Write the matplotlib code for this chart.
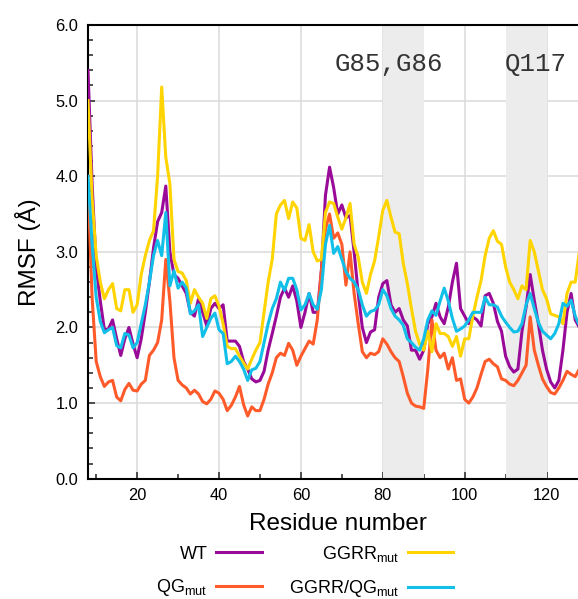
import numpy as np
import matplotlib
matplotlib.use("Agg")
from matplotlib import pyplot as plt
from matplotlib.ticker import MultipleLocator, FormatStrFormatter

# residue numbers 8..128
residues = np.arange(8, 129)

wt = [5.4, 3.9, 2.8, 2.35, 1.97, 1.98, 2.1, 1.85, 1.63, 1.85,
	2.0, 1.78, 1.6, 1.85, 2.2, 2.6, 3.05, 3.4, 3.52, 3.87,
	3.0, 2.7, 2.65, 2.55, 2.45, 2.2, 2.15, 2.38, 2.2, 2.02,
	2.25, 2.32, 2.25, 2.3, 1.82, 1.82, 1.82, 1.75, 1.55, 1.45,
	1.32, 1.28, 1.3, 1.42, 1.7, 1.92, 2.15, 2.4, 2.52, 2.4,
	2.55, 2.35, 2.0, 2.2, 2.45, 2.2, 2.2, 2.75, 3.75, 4.12,
	3.85, 3.5, 3.62, 3.45, 3.48, 3.0, 2.45, 2.0, 1.8, 1.94,
	1.97, 2.4, 2.58, 2.62, 2.3, 2.2, 2.25, 2.1, 2.02, 1.7,
	1.7, 1.58, 1.7, 2.05, 2.14, 2.32, 2.14, 2.05, 2.27, 2.6,
	2.85, 2.25, 2.15, 2.05, 2.14, 2.1, 2.02, 2.42, 2.45, 2.32,
	2.08, 1.95, 1.62, 1.48, 1.41, 1.45, 1.95, 2.27, 2.7, 2.36,
	2.05, 1.7, 1.45, 1.28, 1.2, 1.3, 1.7, 2.2, 2.45, 2.1,
	2.0]

qg_mut = [3.9, 2.4, 1.55, 1.35, 1.22, 1.28, 1.3, 1.08, 1.03, 1.18,
	1.26, 1.17, 1.16, 1.25, 1.3, 1.63, 1.7, 1.8, 2.1, 2.9,
	2.35, 1.6, 1.3, 1.24, 1.2, 1.12, 1.17, 1.12, 1.02, 0.99,
	1.05, 1.16, 1.13, 1.05, 0.9, 0.97, 1.08, 1.22, 0.98, 0.83,
	0.95, 0.9, 0.9, 1.05, 1.25, 1.4, 1.6, 1.66, 1.63, 1.79,
	1.7, 1.5, 1.62, 1.72, 1.82, 1.78, 2.1, 2.75, 3.3, 3.5,
	3.18, 3.25, 3.1, 2.56, 3.0, 2.45, 2.05, 1.68, 1.6, 1.66,
	1.64, 1.68, 1.85, 1.78, 1.68, 1.6, 1.55, 1.35, 1.13, 1.0,
	0.96, 0.95, 0.93, 1.45, 2.1, 1.7, 1.6, 1.66, 1.45, 1.6,
	1.3, 1.32, 1.05, 1.0, 1.08, 1.2, 1.38, 1.55, 1.58, 1.52,
	1.48, 1.32, 1.3, 1.25, 1.23, 1.3, 1.4, 1.5, 2.14, 1.7,
	1.5, 1.32, 1.22, 1.14, 1.12, 1.2, 1.3, 1.42, 1.38, 1.35,
	1.45]

ggrr_mut = [5.0, 3.7, 2.95, 2.6, 2.38, 2.5, 2.58, 2.25, 2.22, 2.5,
	2.5, 2.2, 2.3, 2.7, 2.95, 3.15, 3.28, 4.0, 5.18, 4.25,
	3.9, 2.9, 2.74, 2.72, 2.62, 2.32, 2.5, 2.4, 2.32, 2.12,
	2.38, 2.42, 2.28, 2.05, 1.75, 1.72, 1.72, 1.62, 1.53, 1.45,
	1.58, 1.7, 1.8, 2.2, 2.6, 2.9, 3.5, 3.62, 3.68, 3.44,
	3.66, 3.58, 3.18, 3.15, 3.36, 3.0, 2.88, 2.9, 3.52, 3.66,
	3.64, 3.46, 3.3, 3.45, 3.64, 3.1, 2.93, 2.6, 2.45, 2.7,
	2.88, 3.2, 3.55, 3.68, 3.46, 3.26, 3.24, 2.85, 2.58, 2.25,
	1.95, 1.78, 1.7, 1.95, 1.68, 2.05, 1.92, 1.92, 1.88, 1.75,
	1.88, 1.62, 1.85, 1.85, 2.15, 2.4, 2.62, 2.95, 3.18, 3.28,
	3.14, 3.1, 2.8, 2.6, 2.5, 2.38, 2.55, 2.5, 3.15, 3.0,
	2.75, 2.5, 2.38, 2.18, 2.16, 2.14, 2.05, 2.45, 2.6, 2.6,
	3.0]

ggrr_qg_mut = [4.0, 3.1, 2.4, 2.08, 1.93, 1.97, 2.0, 1.76, 1.73, 1.92,
	1.9, 1.73, 1.8, 2.05, 2.3, 2.6, 2.95, 3.15, 2.95, 3.52,
	2.55, 2.75, 2.52, 2.6, 2.52, 2.18, 2.22, 2.3, 1.88, 2.0,
	2.12, 2.19, 1.97, 1.92, 1.52, 1.55, 1.62, 1.55, 1.45, 1.3,
	1.44, 1.46, 1.55, 1.8, 2.05, 2.25, 2.38, 2.6, 2.49, 2.65,
	2.65, 2.5, 2.23, 2.3, 2.45, 2.3, 2.24, 2.5, 3.1, 3.35,
	2.98, 3.07, 2.9, 2.74, 2.65, 2.6, 2.5, 2.3, 2.15, 2.21,
	2.23, 2.3, 2.5, 2.42, 2.25, 2.15, 2.1, 2.03, 1.85, 1.8,
	1.74, 1.7, 1.85, 2.1, 2.22, 2.16, 2.35, 2.52, 2.35, 2.12,
	1.95, 1.98, 2.02, 2.1, 2.2, 2.2, 2.2, 2.4, 2.3, 2.3,
	2.27, 2.15, 2.07, 2.0, 1.94, 1.95, 2.05, 2.3, 2.45, 2.25,
	2.07, 1.95, 1.9, 1.85, 1.92, 2.05, 2.32, 2.28, 2.36, 2.15,
	2.03]

series_labels = ["WT", "QG$_{\\mathrm{mut}}$", "GGRR$_{\\mathrm{mut}}$", "GGRR/QG$_{\\mathrm{mut}}$"]
series_colors = ["#990a99", "#ff5a2a", "#ffd400", "#12bfe8"]

# highlighted residue ranges and their labels
shade_ranges = [(80, 90), (110, 120)]
shade_labels = ["G85,G86", "Q117"]
shade_label_x = [81.6, 117.3]

plt.rcParams['font.family'] = ['Liberation Sans', 'DejaVu Sans']
plt.rcParams['mathtext.fontset'] = 'custom'
plt.rcParams['mathtext.rm'] = 'Liberation Sans'
plt.rcParams['mathtext.it'] = 'Liberation Sans:italic'

fig = plt.figure(figsize=(5.78, 5.99), dpi=100)
# axes run a bit past the right edge of the picture, like the original crop
ax = fig.add_axes([88/578, (599-478.7)/599, 499.5/578, 453.7/599])

for (lo, hi) in shade_ranges:
	ax.axvspan(lo, hi, color="#ececec", lw=0, zorder=1)

lines = []
for vals, lab, col in zip([wt, qg_mut, ggrr_mut, ggrr_qg_mut], series_labels, series_colors):
	l, = ax.plot(residues, vals, color=col, lw=2.2, label=lab, zorder=3)
	lines.append(l)

for txt, xpos in zip(shade_labels, shade_label_x):
	ax.text(xpos, 5.48, txt, family='Liberation Mono', fontsize=18.5, ha='center', va='center', color='#333333')

ax.set_xlim(8, 130)
ax.set_ylim(0, 6)
ax.xaxis.set_major_locator(MultipleLocator(20))
ax.xaxis.set_minor_locator(MultipleLocator(10))
ax.yaxis.set_major_locator(MultipleLocator(1))
ax.yaxis.set_minor_locator(MultipleLocator(0.2))
ax.yaxis.set_major_formatter(FormatStrFormatter('%.1f'))

ax.set_axisbelow(True)
ax.grid(which='major', color='#dddddd', lw=1.2)
ax.tick_params(which='both', direction='in', top=False, right=False, labelsize=11.8, width=1.2, color='#333333', pad=7)
ax.tick_params(which='major', length=5)
ax.tick_params(which='minor', length=3.5)
for side in ['left', 'bottom', 'top']:
	ax.spines[side].set_linewidth(1.5)
ax.spines['right'].set_visible(False)

ax.set_xlabel("Residue number", fontsize=17.5)
ax.xaxis.set_label_coords(0.5, -0.076)
ax.set_ylabel("RMSF (Å)", fontsize=17.5)
ax.yaxis.set_label_coords(-0.094, 0.5)

fig.legend(handles=lines, loc='center', bbox_to_anchor=(0.527, 0.046), ncol=2, markerfirst=False,
	frameon=False, fontsize=13, handlelength=2.5, handletextpad=0.5, columnspacing=1.5, labelspacing=0.8)

fig.savefig("out.png", dpi=100)
